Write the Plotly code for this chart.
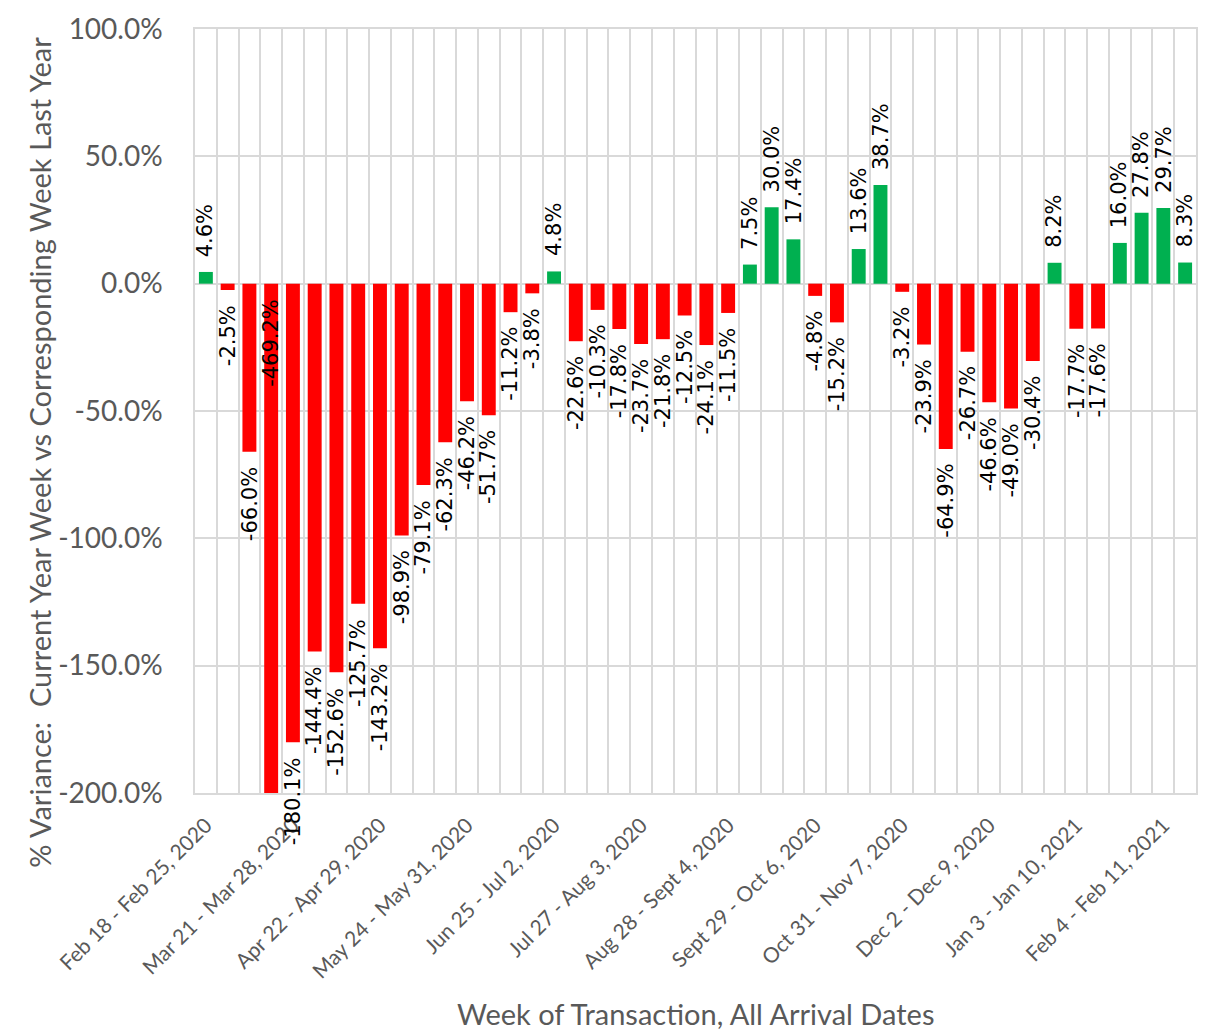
import plotly.graph_objects as go

# ---- data ----
variance_pct = [4.6, -2.5, -66.0, -469.2, -180.1, -144.4, -152.6, -125.7, -143.2, -98.9,
                -79.1, -62.3, -46.2, -51.7, -11.2, -3.8, 4.8, -22.6, -10.3, -17.8,
                -23.7, -21.8, -12.5, -24.1, -11.5, 7.5, 30.0, 17.4, -4.8, -15.2,
                13.6, 38.7, -3.2, -23.9, -64.9, -26.7, -46.6, -49.0, -30.4, 8.2,
                -17.7, -17.6, 16.0, 27.8, 29.7, 8.3]
week_index = list(range(len(variance_pct)))
tick_labels = ["Feb 18 - Feb 25, 2020", "Mar 21 - Mar 28, 2020", "Apr 22 - Apr 29, 2020",
               "May 24 - May 31, 2020", "Jun 25 - Jul 2, 2020", "Jul 27 - Aug 3, 2020",
               "Aug 28 - Sept 4, 2020", "Sept 29 - Oct 6, 2020", "Oct 31 - Nov 7, 2020",
               "Dec 2 - Dec 9, 2020", "Jan 3 - Jan 10, 2021", "Feb 4 - Feb 11, 2021"]
tick_every = 4
y_ticks = [-200, -150, -100, -50, 0, 50, 100]
y_min, y_max = -200, 100

x_title = "Week of Transaction, All Arrival Dates"
y_title = "% Variance:  Current Year Week vs Corresponding Week Last Year"

# ---- styles ----
POS = "#00B050"
NEG = "#FF0000"
GRID = "#D9D9D9"
TXT = "#595959"
FONT = "Lato"
LABEL_FONT = "DejaVu Sans"

colors = [POS if v >= 0 else NEG for v in variance_pct]

fig = go.Figure(go.Bar(
    x=week_index, y=variance_pct, marker=dict(color=colors, line=dict(width=0)),
    hoverinfo="skip",
))

annotations = []
for xi, v in zip(week_index, variance_pct):
    if v >= 0:
        annotations.append(dict(x=xi, y=v, xref="x", yref="y", text=f"{v:.1f}%",
                                textangle=-90, showarrow=False, yanchor="bottom",
                                xanchor="center", yshift=13,
                                font=dict(family=LABEL_FONT, size=21, color="#000000")))
    else:
        ya = v if v >= y_min else 0
        annotations.append(dict(x=xi, y=ya, xref="x", yref="y", text=f"{v:.1f}%",
                                textangle=-90, showarrow=False, yanchor="top",
                                xanchor="center", yshift=-13,
                                font=dict(family=LABEL_FONT, size=21, color="#000000")))

annotations.append(dict(xref="paper", yref="paper", x=0.5, y=0, yshift=-220,
                        xanchor="center", yanchor="middle", showarrow=False,
                        text=x_title, font=dict(family=FONT, size=29, color=TXT)))
annotations.append(dict(xref="paper", yref="paper", x=0, xshift=-155,
                        y=(795 - 452) / 770, xanchor="center", yanchor="middle",
                        showarrow=False, textangle=-90,
                        text=y_title, font=dict(family=FONT, size=29, color=TXT)))

fig.update_layout(
    width=1209, height=1034,
    margin=dict(l=195, r=11, t=23, b=241),
    paper_bgcolor="white", plot_bgcolor="white",
    bargap=0.36, showlegend=False,
    annotations=annotations,
    xaxis=dict(
        range=[-0.5, len(variance_pct) - 0.5],
        tickmode="array",
        tickvals=week_index[::tick_every],
        ticktext=tick_labels,
        tickangle=-45,
        tickfont=dict(family=FONT, size=21, color=TXT),
        showgrid=False, zeroline=False,
        ticks="", ticklabelstandoff=10,
        showline=True, linecolor=GRID, linewidth=1.5, mirror=True,
        minor=dict(tickmode="linear", tick0=-0.5, dtick=1, showgrid=True,
                   gridcolor=GRID, gridwidth=1.5, ticks=""),
    ),
    yaxis=dict(
        range=[y_min, y_max],
        tickmode="array",
        tickvals=y_ticks,
        ticktext=[f"{t:.1f}%" for t in y_ticks],
        tickfont=dict(family=FONT, size=28, color=TXT),
        ticklabeloverflow="allow",
        showgrid=True, gridcolor=GRID, gridwidth=1.5,
        zeroline=True, zerolinecolor=GRID, zerolinewidth=1.5,
        ticks="", ticklabelstandoff=25,
        showline=True, linecolor=GRID, linewidth=1.5, mirror=True,
    ),
)

fig.write_html("out.html",
               config={"displayModeBar": False},
               post_script="document.body.style.margin='0';document.body.style.overflow='hidden';")
